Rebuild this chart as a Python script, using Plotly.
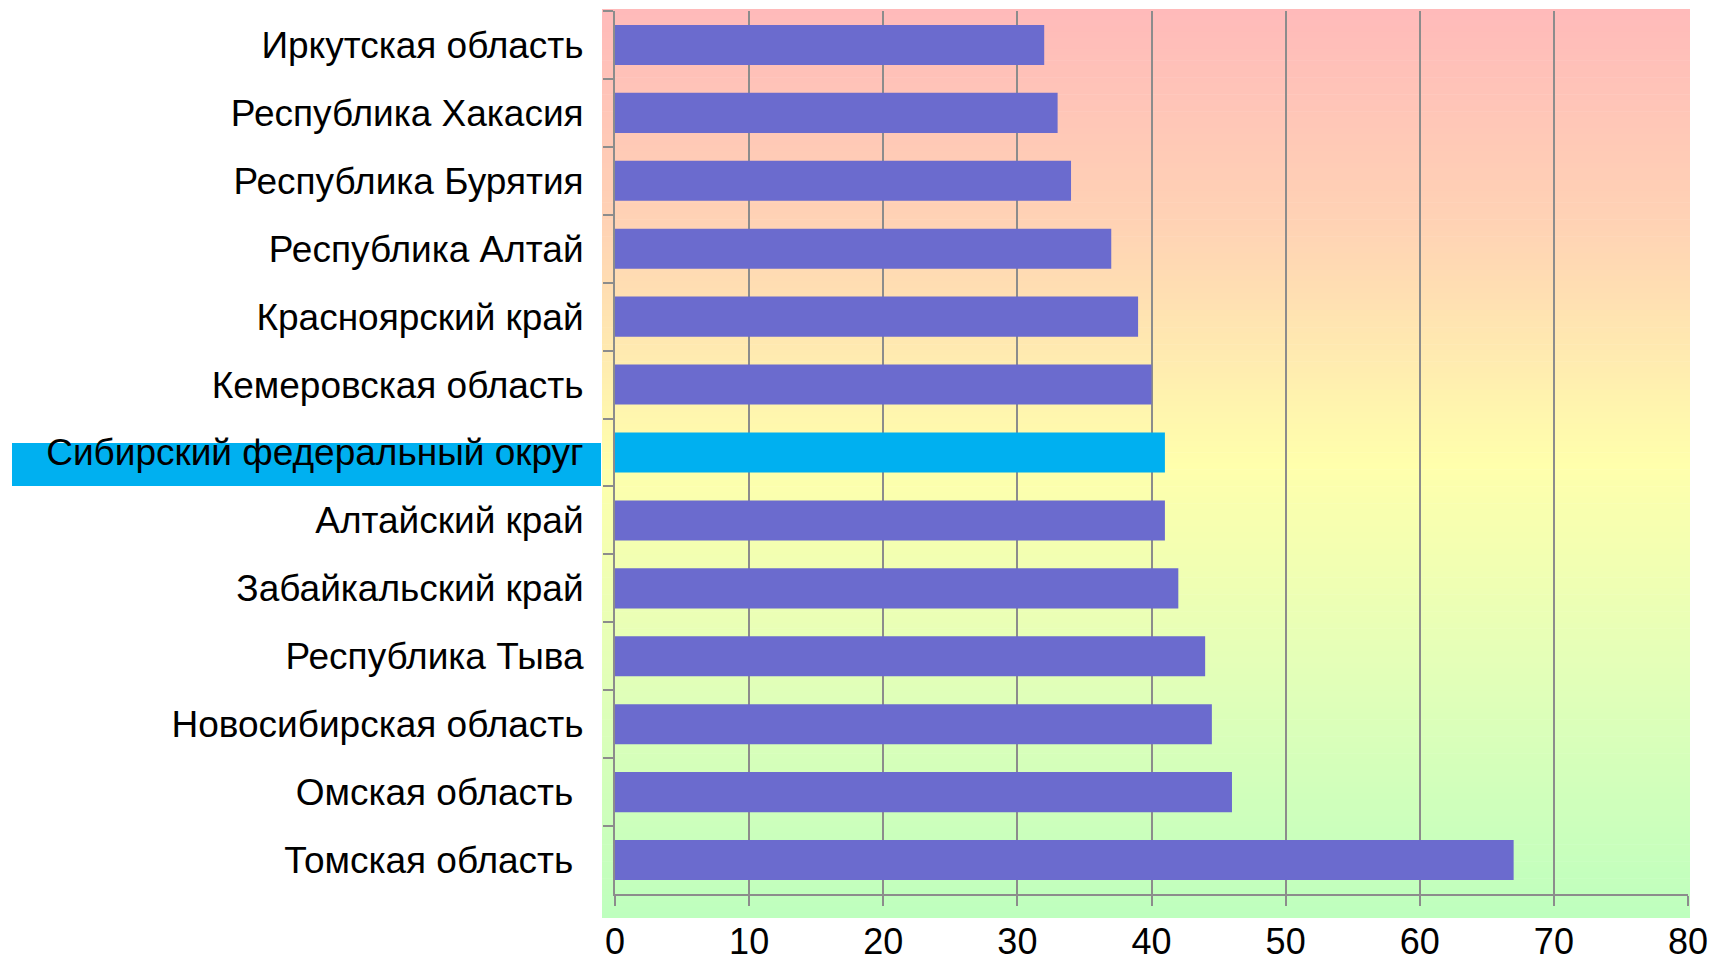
import plotly.graph_objects as go

# ---- data ----
categories = [
    "Иркутская область",
    "Республика Хакасия",
    "Республика Бурятия",
    "Республика Алтай",
    "Красноярский край",
    "Кемеровская область",
    "Сибирский федеральный округ",
    "Алтайский край",
    "Забайкальский край",
    "Республика Тыва",
    "Новосибирская область",
    "Омская область\u00a0",
    "Томская область\u00a0",
]
values = [32, 33, 34, 37, 39, 40, 41, 41, 42, 44, 44.5, 46, 67]
highlight = "Сибирский федеральный округ"
x_ticks = [0, 10, 20, 30, 40, 50, 60, 70, 80]

# ---- style ----
W, H = 1714, 964
L, R, T, B = 615, 1688, 11, 894  # plot area in pixels
BAR = "#6B6BCE"
HI = "#00B0F0"
GRID = "#8C8C8C"
FONT = "Arial, Liberation Sans, sans-serif"

colors = [HI if c == highlight else BAR for c in categories]

fig = go.Figure(
    go.Bar(
        y=categories,
        x=values,
        orientation="h",
        marker=dict(color=colors, line=dict(width=0)),
        width=0.59,
        hoverinfo="x+y",
    )
)


def px_x(p):
    return (p - L) / (R - L)


def px_y(p):
    return (B - p) / (B - T)


shapes = []
# vertical gradient background (pink -> peach -> yellow -> light green)
stops = [
    (0.00, (255, 186, 186)),
    (0.25, (255, 212, 180)),
    (0.50, (255, 255, 172)),
    (0.72, (228, 255, 184)),
    (1.00, (190, 255, 190)),
]


def col_at(t):
    for (t0, c0), (t1, c1) in zip(stops[:-1], stops[1:]):
        if t0 <= t <= t1:
            f = (t - t0) / (t1 - t0) if t1 > t0 else 0
            return tuple(round(a + (b - a) * f) for a, b in zip(c0, c1))
    return stops[-1][1]


top_px, bot_px = 9, 918
n = 160
for i in range(n):
    p0 = top_px + (bot_px - top_px) * i / n
    p1 = top_px + (bot_px - top_px) * (i + 1) / n + 0.6
    c = col_at((i + 0.5) / n)
    shapes.append(dict(
        type="rect", xref="paper", yref="paper",
        x0=px_x(602), x1=px_x(1690), y0=px_y(min(p1, bot_px)), y1=px_y(p0),
        fillcolor="rgb(%d,%d,%d)" % c, line=dict(width=0), layer="below",
    ))

# highlight box behind the district label
shapes.append(dict(
    type="rect", xref="paper", yref="paper",
    x0=px_x(12), x1=px_x(601), y0=px_y(486), y1=px_y(443),
    fillcolor=HI, line=dict(width=0), layer="below",
))

fig.update_layout(
    width=W, height=H,
    autosize=False,
    margin=dict(l=L, r=W - R, t=T, b=H - B, pad=0, autoexpand=False),
    paper_bgcolor="white",
    plot_bgcolor="rgba(0,0,0,0)",
    showlegend=False,
    font=dict(family=FONT, size=37, color="black"),
    shapes=shapes,
    xaxis=dict(
        range=[0, 80],
        tickvals=x_ticks,
        ticktext=[str(v) for v in x_ticks],
        showgrid=True, gridcolor=GRID, gridwidth=2,
        showline=True, linecolor=GRID, linewidth=2,
        ticks="outside", ticklen=10, tickwidth=2, tickcolor=GRID,
        zeroline=False,
        tickfont=dict(family=FONT, size=36, color="black"),
        ticklabelstandoff=5,
        automargin=False,
        fixedrange=True,
    ),
    yaxis=dict(
        categoryorder="array", categoryarray=categories,
        autorange="reversed",
        showgrid=False,
        showline=True, linecolor=GRID, linewidth=2,
        ticks="outside", ticklen=10, tickwidth=2, tickcolor=GRID,
        tickson="boundaries",
        tickfont=dict(family=FONT, size=37, color="black"),
        ticklabelstandoff=22,
        automargin=False,
        fixedrange=True,
    ),
)

fig.write_html(
    "out.html",
    config={"displayModeBar": False, "responsive": False},
    post_script="document.body.style.margin='0';document.body.style.overflow='hidden';",
)
